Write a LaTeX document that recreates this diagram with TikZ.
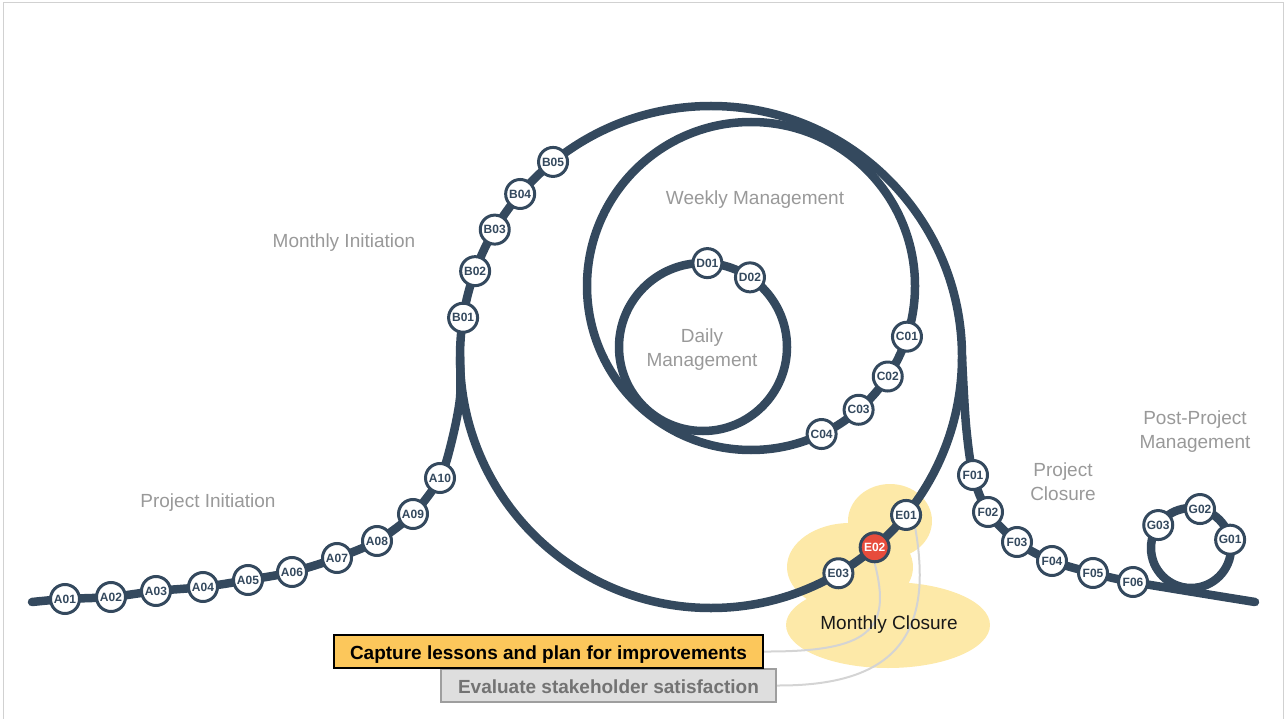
\documentclass[tikz,border=0pt]{standalone}
\usepackage{fontspec}
\setmainfont{Liberation Sans}
\usetikzlibrary{backgrounds}
\definecolor{trackblue}{HTML}{34495E}
\definecolor{blobyellow}{HTML}{FDE9A8}
\definecolor{capyellow}{HTML}{FCC75B}
\definecolor{alertred}{HTML}{E74C3C}
\definecolor{labelgray}{HTML}{999999}
\tikzset{
  track/.style={draw=trackblue, line width=8.5pt, line cap=round},
  station/.style={circle, draw=trackblue, line width=3pt, fill=white, minimum size=29pt, inner sep=0pt, text=trackblue, font=\fontsize{12}{12}\selectfont\bfseries},
  hot/.style={station, fill=alertred, text=white},
  phase/.style={text=labelgray, align=center, font=\fontsize{19}{24}\selectfont},
  blob/.style={fill=blobyellow},
  link/.style={draw=black!17, line width=2pt},
  capbox/.style={draw=black, line width=2pt, fill=capyellow, minimum width=429pt, minimum height=33pt, inner sep=0pt, text height=15pt, text depth=0pt, font=\fontsize{19}{19}\selectfont\bfseries},
  evalbox/.style={draw=black!38, line width=2pt, fill=black!13, text=black!55, minimum width=335pt, minimum height=33pt, inner sep=0pt, text height=15pt, text depth=0pt, font=\fontsize{19}{19}\selectfont\bfseries},
}
\begin{document}
\begin{tikzpicture}[x=1pt,y=-1pt]
\useasboundingbox (0,0) rectangle (1287,719);
\draw[black!18, line width=1pt] (3,719) -- (3,3) -- (1283,3) -- (1283,719);

% loop centres
\coordinate (monthC) at (711,357);
\coordinate (weekC) at (751,286);
\coordinate (dayC) at (703,347);
\coordinate (postC) at (1191,548);

% project initiation
\node[station] (A01) at (65,599) {A01};
\node[station] (A02) at (111,597) {A02};
\node[station] (A03) at (156,591) {A03};
\node[station] (A04) at (203,587) {A04};
\node[station] (A05) at (248,580) {A05};
\node[station] (A06) at (292,572) {A06};
\node[station] (A07) at (337,558) {A07};
\node[station] (A08) at (377,541) {A08};
\node[station] (A09) at (413,514) {A09};
\node[station] (A10) at (440,478) {A10};

% monthly initiation
\node[station] (B01) at ([shift={(189:251)}]monthC) {B01};
\node[station] (B02) at ([shift={(200:251)}]monthC) {B02};
\node[station] (B03) at ([shift={(210.5:251)}]monthC) {B03};
\node[station] (B04) at ([shift={(220.5:251)}]monthC) {B04};
\node[station] (B05) at ([shift={(231:251)}]monthC) {B05};

% weekly and daily
\node[station] (C01) at ([shift={(18:164)}]weekC) {C01};
\node[station] (C02) at ([shift={(33.5:164)}]weekC) {C02};
\node[station] (C03) at ([shift={(49:164)}]weekC) {C03};
\node[station] (C04) at ([shift={(64.5:164)}]weekC) {C04};
\node[station] (D01) at ([shift={(273:84)}]dayC) {D01};
\node[station] (D02) at ([shift={(304:84)}]dayC) {D02};

% monthly closure
\node[station] (E01) at ([shift={(39:251)}]monthC) {E01};
\node[hot] (E02) at ([shift={(49.3:251)}]monthC) {E02};
\node[station] (E03) at ([shift={(59.5:251)}]monthC) {E03};

% project closure and after
\node[station] (F01) at (973,475) {F01};
\node[station] (F02) at (988,512) {F02};
\node[station] (F03) at (1017,542) {F03};
\node[station] (F04) at (1052,561) {F04};
\node[station] (F05) at (1093,573) {F05};
\node[station] (F06) at (1133,582) {F06};
\node[station] (G01) at ([shift={(348:40)}]postC) {G01};
\node[station] (G02) at ([shift={(283:40)}]postC) {G02};
\node[station] (G03) at ([shift={(215:40)}]postC) {G03};

% phase labels
\node[phase] (projinit) at (208,503) {Project Initiation};
\node[phase] (monthinit) at (344,243) {Monthly Initiation};
\node[phase] (weekly) at (755,200) {Weekly Management};
\node[phase] (daily) at (702,350) {Daily\\Management};
\node[phase] (projclose) at (1063,482) {Project\\Closure};
\node[phase] (postproj) at (1195,432) {Post-Project\\Management};
\node[phase, text=black!90] (monthclose) at (889,625) {Monthly Closure};

% callouts
\node[evalbox] (evaluate) at (608.5,685.5) {Evaluate stakeholder satisfaction};
\node[capbox] (capture) at (548.5,651.5) {Capture lessons and plan for improvements};

\begin{scope}[on background layer]
\fill[blob] (890,521) ellipse[x radius=42, y radius=37];
\fill[blob] (850,567) ellipse[x radius=63, y radius=44];
\fill[blob] (888,625) ellipse[x radius=102, y radius=43];
\draw[link] (E02.south) .. controls (892,630) and (870,652) .. (capture.east);
\draw[link] (E01.-55) .. controls (935,640) and (890,686) .. (evaluate.east);
\draw[track] plot[smooth] coordinates {(32,602) (A01) (A02) (A03) (A04) (A05) (A06) (A07) (A08) (A09) (A10) (452,440) (460,398) (460,357)};
\draw[track] (monthC) circle[radius=251];
\draw[track] (weekC) circle[radius=164];
\draw[track] (dayC) circle[radius=84];
\draw[track] plot[smooth] coordinates {(962,357) (966,425) (F01) (F02) (F03) (F04) (F05) (F06) (1255,602)};
\draw[track] (postC) circle[radius=40];
\end{scope}
\end{tikzpicture}
\end{document}
